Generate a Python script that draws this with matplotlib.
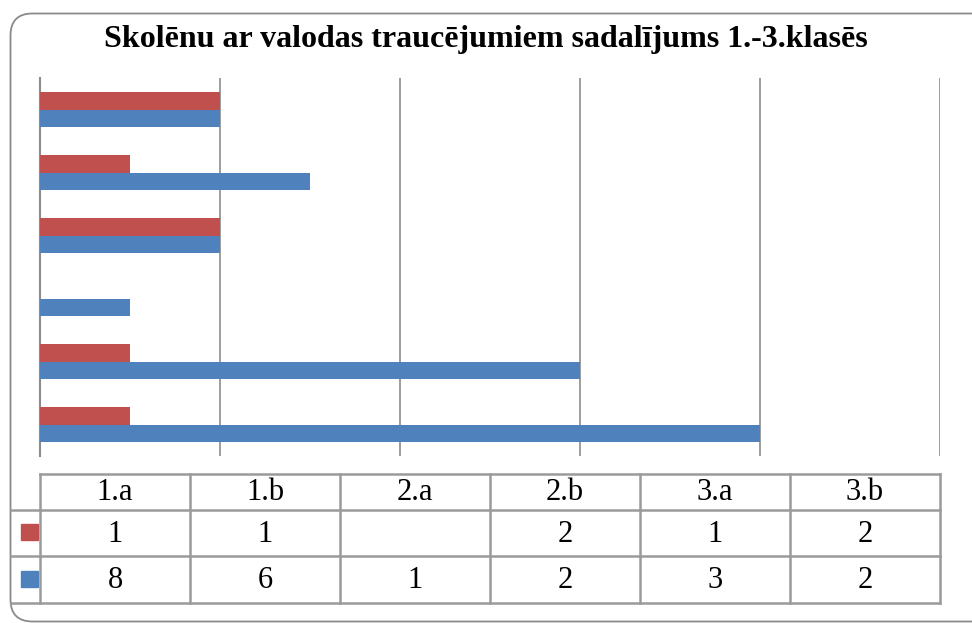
import matplotlib
matplotlib.use("Agg")
import matplotlib.pyplot as plt
from matplotlib.patches import FancyBboxPatch, Rectangle
import numpy as np

# ---- data ----
categories = ["1.a", "1.b", "2.a", "2.b", "3.a", "3.b"]
red_values = [1, 1, None, 2, 1, 2]
blue_values = [8, 6, 1, 2, 3, 2]
title = "Skolēnu ar valodas traucējumiem sadalījums 1.-3.klasēs"

RED = "#C0504D"
BLUE = "#4F81BD"
GRID = "#8C8C8C"
W, H = 972, 623

plt.rcParams["font.family"] = ["Liberation Serif", "DejaVu Serif"]

fig = plt.figure(figsize=(W / 100, H / 100), dpi=100)

# overlay in pixel coordinates for border and data table
ov = fig.add_axes([0, 0, 1, 1])
ov.set_xlim(0, W)
ov.set_ylim(H, 0)
ov.axis("off")
ov.add_patch(FancyBboxPatch((10.5, 13.5), 1000, 608, boxstyle="round,pad=0,rounding_size=22",
                            fc="white", ec="#8A8A8A", lw=1.3, zorder=0))

# main axes
x0, x1 = 40, 940
y_top, y_bot = 78, 456
ax = fig.add_axes([x0 / W, (H - y_bot) / H, (x1 - x0) / W, (y_bot - y_top) / H])
ax.patch.set_alpha(0)
y = np.arange(len(categories))
h = 0.275
red_plot = [v if v is not None else 0 for v in red_values]
ax.barh(y + h / 2, red_plot, height=h, color=RED, zorder=3)
ax.barh(y - h / 2, blue_values, height=h, color=BLUE, zorder=3)
ax.set_xlim(0, 10)
ax.set_ylim(-0.5, len(categories) - 0.5)
ax.set_xticks(np.arange(0, 11, 2))
ax.grid(axis="x", color=GRID, lw=1.2, zorder=1)
ax.tick_params(left=False, bottom=False, labelleft=False, labelbottom=False)
for s in ["top", "right", "bottom"]:
    ax.spines[s].set_visible(False)
ax.spines["left"].set_color(GRID)
ax.spines["left"].set_linewidth(1.5)

fig.text(0.5, 1 - 40 / H, title, ha="center", va="center", fontsize=23, fontweight="bold")

# ---- data table ----
tcol = np.linspace(x0, x1, len(categories) + 1)
rows_y = [474, 510, 556, 603]
lc = "#9A9A9A"
lw = 1.8
# horizontal lines
ov.plot([x0, x1], [rows_y[0], rows_y[0]], color=lc, lw=lw)
for yy in rows_y[1:]:
    ov.plot([11, x1], [yy, yy], color=lc, lw=lw)
# vertical lines
for xx in tcol:
    ov.plot([xx, xx], [rows_y[0], rows_y[-1]], color=lc, lw=lw)
fs = 22
for i, c in enumerate(categories):
    cx = (tcol[i] + tcol[i + 1]) / 2
    ov.text(cx, (rows_y[0] + rows_y[1]) / 2 + 1, c, ha="center", va="center", fontsize=fs)
    if red_values[i] is not None:
        ov.text(cx, (rows_y[1] + rows_y[2]) / 2 + 1, str(red_values[i]), ha="center", va="center", fontsize=fs)
    ov.text(cx, (rows_y[2] + rows_y[3]) / 2 + 1, str(blue_values[i]), ha="center", va="center", fontsize=fs)
# legend keys
ov.add_patch(Rectangle((21, 524), 17, 16, color=RED))
ov.add_patch(Rectangle((21, 571), 17, 16, color=BLUE))

fig.savefig("out.png", dpi=100)
